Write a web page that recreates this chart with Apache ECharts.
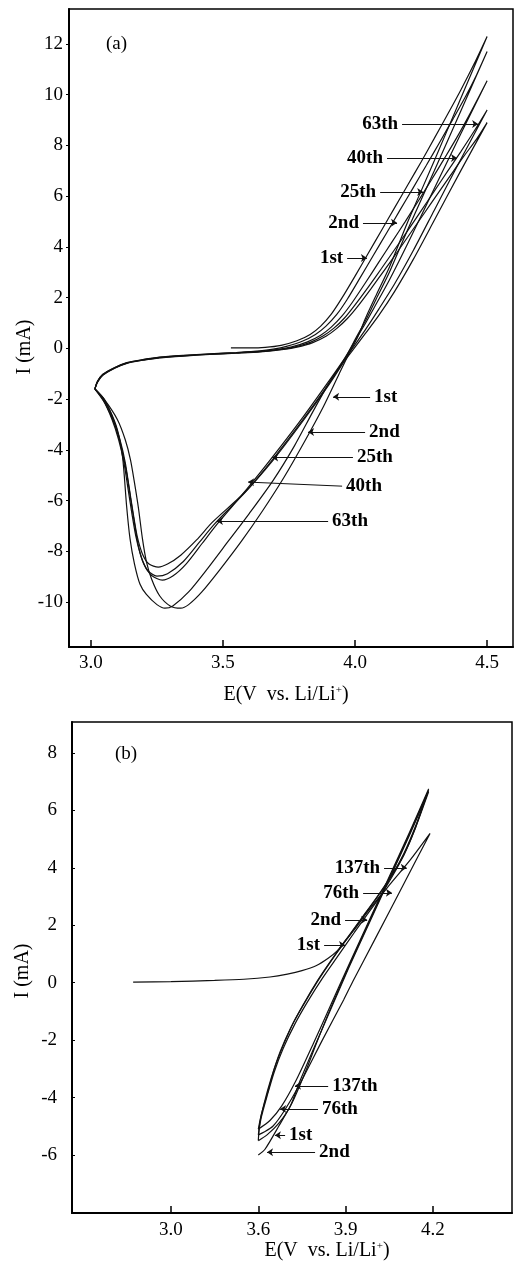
<!DOCTYPE html>
<html><head><meta charset="utf-8">
<script src="https://cdn.jsdelivr.net/npm/echarts@6/dist/echarts.min.js"></script>
<style>html,body{margin:0;padding:0;background:#fff}#c{width:515px;height:1262px}</style>
</head><body><div id="c"></div>
<script>
// ---------- tick values / labels ----------
const xTicksA = [3.0, 3.5, 4.0, 4.5];
const yTicksA = [-10, -8, -6, -4, -2, 0, 2, 4, 6, 8, 10, 12];
const xTicksB = [3.3, 3.6, 3.9, 4.2];
const xTickLabelsB = ['3.0', '3.6', '3.9', '4.2'];
const yTicksB = [-6, -4, -2, 0, 2, 4, 6, 8];

// ---------- panel (a): cycles [E (V), I (mA)] ----------
const cycA_1st = [[3.53,0.02],[3.60,0.02],[3.66,0.04],[3.72,0.12],[3.78,0.3],[3.83,0.55],[3.87,0.88],[3.91,1.35],[3.95,1.98],[4.0,2.85],[4.05,3.75],[4.1,4.65],[4.15,5.55],[4.2,6.45],[4.25,7.35],[4.3,8.28],[4.35,9.22],[4.4,10.18],[4.45,11.2],[4.5,12.3],
  [4.4,9.85],[4.3,7.4],[4.2,5.0],[4.13,3.2],[4.08,2.1],[4.04,1.2],[4.01,0.45],[3.975,-0.25],[3.94,-1.0],[3.88,-2.3],[3.81,-3.65],[3.73,-5.1],[3.65,-6.4],[3.57,-7.6],[3.49,-8.7],[3.42,-9.6],[3.37,-10.1],[3.34,-10.24],[3.30,-10.15],[3.26,-9.75],[3.23,-9.1],[3.21,-8.4],[3.195,-7.5],[3.18,-6.3],[3.165,-5.3],[3.15,-4.4],[3.13,-3.6],[3.10,-2.8],[3.05,-2.0],[3.015,-1.6]];
const cycA_2nd = [[3.015,-1.6],[3.025,-1.3],[3.045,-1.02],[3.09,-0.75],[3.136,-0.56],[3.2,-0.43],[3.26,-0.34],[3.35,-0.27],[3.45,-0.21],[3.55,-0.16],[3.64,-0.1],[3.69,-0.03],[3.74,0.08],[3.80,0.28],[3.85,0.55],[3.89,0.88],[3.93,1.33],[3.97,1.93],[4.02,2.8],[4.07,3.68],[4.12,4.56],[4.17,5.45],[4.22,6.33],[4.27,7.22],[4.32,8.12],[4.37,9.03],[4.42,9.96],[4.46,10.78],[4.5,11.7],
  [4.4,9.35],[4.3,7.0],[4.2,4.7],[4.13,3.0],[4.08,1.95],[4.04,1.1],[4.0,0.35],[3.97,-0.25],[3.905,-1.3],[3.84,-2.5],[3.77,-3.85],[3.69,-5.2],[3.6,-6.5],[3.52,-7.6],[3.44,-8.7],[3.37,-9.6],[3.31,-10.15],[3.28,-10.24],[3.25,-10.1],[3.21,-9.7],[3.186,-9.3],[3.165,-8.5],[3.148,-7.5],[3.135,-6.2],[3.12,-4.3],[3.10,-3.2],[3.07,-2.4],[3.04,-1.9],[3.015,-1.6]];
const cycA_25th = [[3.015,-1.6],[3.025,-1.3],[3.045,-1.03],[3.09,-0.76],[3.136,-0.57],[3.2,-0.44],[3.26,-0.35],[3.35,-0.28],[3.45,-0.22],[3.55,-0.17],[3.64,-0.12],[3.71,-0.04],[3.76,0.06],[3.82,0.26],[3.87,0.52],[3.91,0.84],[3.95,1.27],[3.99,1.82],[4.04,2.6],[4.09,3.4],[4.14,4.2],[4.19,5.0],[4.24,5.82],[4.29,6.66],[4.34,7.52],[4.39,8.4],[4.44,9.35],[4.5,10.55],
  [4.4,8.45],[4.3,6.3],[4.2,4.15],[4.13,2.7],[4.08,1.75],[4.04,1.0],[4.0,0.3],[3.96,-0.4],[3.90,-1.3],[3.8,-2.75],[3.69,-4.25],[3.59,-5.55],[3.48,-6.9],[3.42,-7.7],[3.36,-8.5],[3.31,-8.97],[3.27,-9.13],[3.23,-8.95],[3.20,-8.5],[3.18,-7.8],[3.165,-6.9],[3.15,-5.9],[3.135,-4.9],[3.115,-3.9],[3.09,-3.0],[3.055,-2.2],[3.015,-1.6]];
const cycA_40th = [[3.015,-1.6],[3.025,-1.32],[3.045,-1.05],[3.09,-0.77],[3.136,-0.58],[3.2,-0.45],[3.26,-0.36],[3.35,-0.29],[3.45,-0.23],[3.55,-0.18],[3.64,-0.13],[3.72,-0.04],[3.77,0.05],[3.83,0.24],[3.88,0.5],[3.92,0.8],[3.96,1.2],[4.0,1.72],[4.05,2.42],[4.1,3.15],[4.15,3.9],[4.2,4.65],[4.25,5.42],[4.3,6.2],[4.35,6.98],[4.4,7.75],[4.45,8.55],[4.5,9.4],
  [4.4,7.45],[4.3,5.45],[4.22,3.85],[4.15,2.55],[4.09,1.55],[4.04,0.75],[4.0,0.15],[3.96,-0.45],[3.9,-1.4],[3.8,-2.85],[3.69,-4.35],[3.59,-5.6],[3.47,-6.9],[3.41,-7.65],[3.35,-8.4],[3.29,-8.88],[3.25,-8.98],[3.215,-8.75],[3.19,-8.2],[3.17,-7.4],[3.155,-6.5],[3.14,-5.5],[3.125,-4.5],[3.105,-3.6],[3.08,-2.8],[3.045,-2.0],[3.015,-1.6]];
const cycA_63th = [[3.015,-1.6],[3.025,-1.33],[3.045,-1.06],[3.09,-0.78],[3.136,-0.59],[3.2,-0.46],[3.26,-0.37],[3.35,-0.3],[3.45,-0.24],[3.55,-0.19],[3.64,-0.14],[3.73,-0.04],[3.78,0.05],[3.84,0.23],[3.89,0.48],[3.93,0.78],[3.97,1.17],[4.01,1.66],[4.06,2.35],[4.11,3.07],[4.16,3.8],[4.21,4.55],[4.26,5.3],[4.31,6.05],[4.36,6.8],[4.41,7.55],[4.46,8.25],[4.5,8.9],
  [4.4,7.0],[4.3,5.05],[4.22,3.5],[4.15,2.25],[4.09,1.3],[4.04,0.6],[4.0,0.05],[3.96,-0.5],[3.9,-1.45],[3.8,-2.9],[3.69,-4.4],[3.58,-5.7],[3.46,-6.85],[3.40,-7.55],[3.34,-8.15],[3.29,-8.5],[3.255,-8.62],[3.22,-8.5],[3.195,-8.1],[3.175,-7.4],[3.16,-6.5],[3.145,-5.5],[3.13,-4.5],[3.11,-3.6],[3.085,-2.8],[3.05,-2.0],[3.015,-1.6]];

// ---------- panel (b): cycles [E (V), I (mA)] (x axis drawn as printed) ----------
const cycB_1st = [[3.17,0.02],[3.3,0.04],[3.45,0.08],[3.55,0.12],[3.64,0.2],[3.7,0.3],[3.75,0.42],[3.8,0.6],[3.84,0.85],[3.87,1.1],[3.89,1.35],[3.93,1.85],[3.97,2.4],[4.02,3.05],[4.06,3.7],[4.1,4.45],[4.14,5.4],[4.185,6.75],
  [4.12,5.25],[4.05,3.7],[3.98,2.15],[3.91,0.6],[3.85,-0.75],[3.79,-2.1],[3.73,-3.4],[3.68,-4.3],[3.64,-4.8],[3.6,-5.1]];
const cycB_2nd = [[3.6,-5.1],[3.61,-4.6],[3.63,-3.9],[3.655,-3.0],[3.685,-2.2],[3.72,-1.4],[3.765,-0.6],[3.81,0.15],[3.86,0.9],[3.91,1.6],[3.96,2.3],[4.01,3.0],[4.06,3.75],[4.1,4.5],[4.14,5.45],[4.185,6.7],
  [4.12,5.2],[4.05,3.65],[3.98,2.1],[3.91,0.55],[3.85,-0.85],[3.8,-2.1],[3.766,-3.0],[3.72,-4.1],[3.67,-5.0],[3.623,-5.8],[3.6,-6.0]];
const cycB_76th = [[3.6,-5.5],[3.605,-4.9],[3.62,-4.2],[3.645,-3.3],[3.675,-2.4],[3.71,-1.6],[3.755,-0.75],[3.805,0.1],[3.855,0.85],[3.905,1.55],[3.955,2.25],[4.005,2.95],[4.055,3.7],[4.1,4.45],[4.14,5.4],[4.185,6.65],
  [4.12,5.15],[4.05,3.6],[3.98,2.05],[3.91,0.5],[3.85,-0.9],[3.79,-2.3],[3.74,-3.5],[3.71,-4.3],[3.67,-4.9],[3.63,-5.3],[3.6,-5.5]];
const cycB_137th = [[3.6,-5.3],[3.61,-4.7],[3.63,-3.95],[3.655,-3.1],[3.685,-2.3],[3.725,-1.45],[3.77,-0.65],[3.82,0.15],[3.875,0.95],[3.93,1.75],[3.99,2.6],[4.05,3.4],[4.12,4.25],[4.19,5.2],
  [4.1,3.45],[4.0,1.5],[3.925,0.05],[3.893,-0.6],[3.82,-2.0],[3.739,-3.6],[3.69,-4.45],[3.65,-5.0],[3.62,-5.2],[3.6,-5.3]];

// ---------- cycle label leader lines: [label-side end, arrow tip] in data units ----------
const notesA = [
  ['63th', [4.178, 8.85], [4.466, 8.85]],
  ['40th', [4.121, 7.51], [4.386, 7.51]],
  ['25th', [4.095, 6.17], [4.258, 6.17]],
  ['2nd',  [4.030, 4.95], [4.159, 4.95]],
  ['1st',  [3.970, 3.56], [4.045, 3.56]],
  ['1st',  [4.057, -1.91], [3.917, -1.91]],
  ['2nd',  [4.038, -3.29], [3.822, -3.29]],
  ['25th', [3.992, -4.30], [3.686, -4.30]],
  ['40th', [3.951, -5.43], [3.595, -5.27]],
  ['63th', [3.898, -6.80], [3.477, -6.80]]
];
const notesB = [
  ['137th', [4.032, 4.00], [4.110, 4.00]],
  ['76th',  [3.960, 3.13], [4.059, 3.13]],
  ['2nd',   [3.898, 2.19], [3.974, 2.19]],
  ['1st',   [3.826, 1.31], [3.898, 1.31]],
  ['137th', [3.840, -3.59], [3.726, -3.59]],
  ['76th',  [3.805, -4.40], [3.675, -4.40]],
  ['1st',   [3.692, -5.31], [3.657, -5.31]],
  ['2nd',   [3.795, -5.90], [3.630, -5.90]]
];

const SERIF = '"Liberation Serif","DejaVu Serif","Times New Roman",serif';

function curve(name, data, gi) {
  return {
    name: name, type: 'line', xAxisIndex: gi, yAxisIndex: gi,
    data: data, showSymbol: false, symbol: 'none', smooth: 0.25,
    lineStyle: { color: '#111', width: 1.2 }, silent: true, animation: false, z: 3
  };
}
function notesSeries(notes, gi) {
  return {
    type: 'line', xAxisIndex: gi, yAxisIndex: gi, data: [], silent: true, animation: false,
    markLine: {
      silent: true, animation: false, symbol: ['none', 'arrow'], symbolSize: 6,
      lineStyle: { color: '#111', width: 1, type: 'solid' },
      label: { show: true, position: 'start', formatter: '{b}', distance: 4,
               fontFamily: SERIF, fontWeight: 'bold', fontSize: 19, color: '#000' },
      data: notes.map(n => [{ name: n[0], coord: n[1] }, { coord: n[2] }])
    }
  };
}

const chart = echarts.init(document.getElementById('c'), null, { renderer: 'canvas' });
const axisLbl = { fontFamily: SERIF, fontSize: 19, color: '#000' };

chart.setOption({
  animation: false,
  backgroundColor: '#fff',
  grid: [
    { left: 69, top: 9, right: 2, bottom: 615, show: true, borderColor: '#000', borderWidth: 1.5, backgroundColor: 'transparent' },
    { left: 72, top: 722, right: 3, bottom: 49, show: true, borderColor: '#000', borderWidth: 1.5, backgroundColor: 'transparent' }
  ],
  xAxis: [
    { type: 'value', gridIndex: 0, min: 2.917, max: 4.598,
      axisLine: { show: true, onZero: false, lineStyle: { color: '#000', width: 2 } },
      axisTick: { show: true, inside: true, length: 7, customValues: xTicksA, lineStyle: { color: '#000', width: 1.5 } },
      axisLabel: Object.assign({ customValues: xTicksA, margin: 7, formatter: v => v.toFixed(1) }, axisLbl),
      splitLine: { show: false } },
    { type: 'value', gridIndex: 1, min: 2.960, max: 4.4715,
      axisLine: { show: true, onZero: false, lineStyle: { color: '#000', width: 2 } },
      axisTick: { show: true, inside: true, length: 7, customValues: xTicksB, lineStyle: { color: '#000', width: 1.5 } },
      axisLabel: Object.assign({ customValues: xTicksB, margin: 8,
        formatter: v => { const i = xTicksB.findIndex(t => Math.abs(t - v) < 1e-6); return i >= 0 ? xTickLabelsB[i] : ''; } }, axisLbl),
      splitLine: { show: false } }
  ],
  yAxis: [
    { type: 'value', gridIndex: 0, min: -11.77, max: 13.38,
      axisLine: { show: true, onZero: false, lineStyle: { color: '#000', width: 2 } },
      axisTick: { show: true, inside: false, length: 3, customValues: yTicksA, lineStyle: { color: '#000', width: 1 } },
      axisLabel: Object.assign({ customValues: yTicksA, margin: 6 }, axisLbl),
      splitLine: { show: false } },
    { type: 'value', gridIndex: 1, min: -8.02, max: 9.08,
      axisLine: { show: true, onZero: false, lineStyle: { color: '#000', width: 2 } },
      axisTick: { show: true, inside: true, length: 3, customValues: yTicksB, lineStyle: { color: '#000', width: 1 } },
      axisLabel: Object.assign({ customValues: yTicksB, margin: 15 }, axisLbl),
      splitLine: { show: false } }
  ],
  graphic: [
    { type: 'text', x: 106, y: 44, style: { text: '(a)', font: '19px ' + SERIF, fill: '#000', verticalAlign: 'middle' } },
    { type: 'text', x: 115, y: 754, style: { text: '(b)', font: '19px ' + SERIF, fill: '#000', verticalAlign: 'middle' } },
    { type: 'text', x: 286, y: 695, style: { text: 'E(V  vs. Li/Li{s|+})', font: '20px ' + SERIF, fill: '#000', align: 'center', verticalAlign: 'middle',
        rich: { s: { fontSize: 11, fontFamily: SERIF, verticalAlign: 'top', padding: [0, 0, 8, 0] } } } },
    { type: 'text', x: 327, y: 1251, style: { text: 'E(V  vs. Li/Li{s|+})', font: '20px ' + SERIF, fill: '#000', align: 'center', verticalAlign: 'middle',
        rich: { s: { fontSize: 11, fontFamily: SERIF, verticalAlign: 'top', padding: [0, 0, 8, 0] } } } },
    { type: 'text', x: 25, y: 347, rotation: Math.PI / 2, style: { text: 'I (mA)', font: '20px ' + SERIF, fill: '#000', align: 'center', verticalAlign: 'middle' } },
    { type: 'text', x: 23, y: 971, rotation: Math.PI / 2, style: { text: 'I (mA)', font: '20px ' + SERIF, fill: '#000', align: 'center', verticalAlign: 'middle' } }
  ],
  series: [
    curve('1st', cycA_1st, 0), curve('2nd', cycA_2nd, 0), curve('25th', cycA_25th, 0),
    curve('40th', cycA_40th, 0), curve('63th', cycA_63th, 0),
    curve('1st', cycB_1st, 1), curve('2nd', cycB_2nd, 1), curve('76th', cycB_76th, 1), curve('137th', cycB_137th, 1),
    notesSeries(notesA, 0), notesSeries(notesB, 1)
  ]
});
</script></body></html>
